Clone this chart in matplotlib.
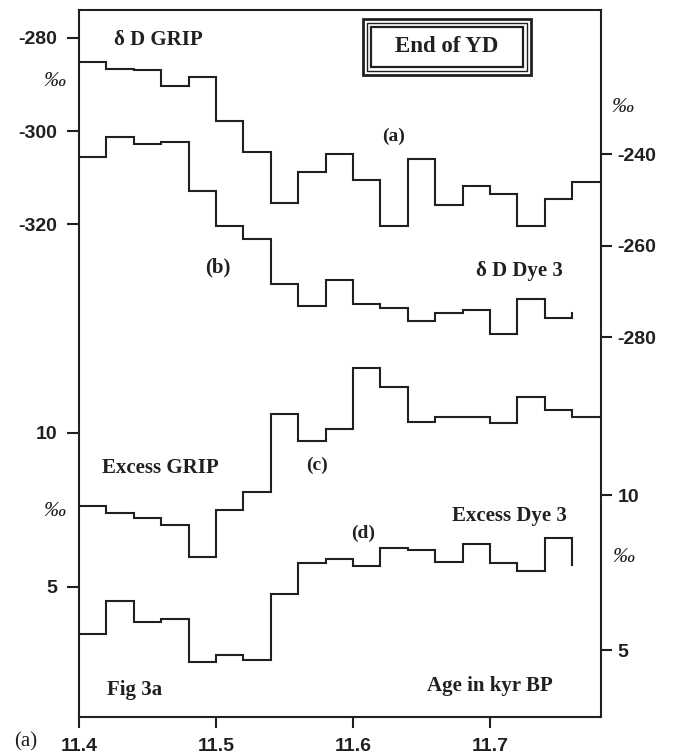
import matplotlib
matplotlib.use('Agg')
import matplotlib.pyplot as plt
from matplotlib.patches import Rectangle

plt.rcParams['axes.unicode_minus'] = False

# ages (kyr BP) at the start of each 20-yr bin, last entry is the end edge
age_grip = [11.40, 11.42, 11.44, 11.46, 11.48, 11.50, 11.52, 11.54, 11.56, 11.58,
            11.60, 11.62, 11.64, 11.66, 11.68, 11.70, 11.72, 11.74, 11.76, 11.78]
age_dye3 = [11.40, 11.42, 11.44, 11.46, 11.48, 11.50, 11.52, 11.54, 11.56, 11.58,
            11.60, 11.62, 11.64, 11.66, 11.68, 11.70, 11.72, 11.74, 11.76]

# (a) dD GRIP (permil)
dD_grip = [-285.3, -286.6, -286.9, -290.3, -288.4, -297.8, -304.5, -315.4, -308.7, -304.9,
           -310.5, -320.4, -306.1, -315.8, -311.7, -313.5, -320.4, -314.6, -310.9, -310.9]
# (b) dD Dye 3 (permil)
dD_dye3 = [-240.7, -236.2, -237.7, -237.3, -248.0, -255.7, -258.6, -268.3, -273.2, -267.5,
           -272.8, -273.7, -276.4, -274.6, -274.0, -279.3, -271.7, -275.8, -274.7]
# (c) deuterium excess GRIP (permil)
xs_grip = [7.62, 7.38, 7.22, 6.99, 5.97, 7.49, 8.07, 10.60, 9.73, 10.12,
           12.11, 11.49, 10.34, 10.52, 10.52, 10.31, 11.15, 10.74, 10.50, 10.50]
# (d) deuterium excess Dye 3 (permil)
xs_dye3 = [5.52, 6.59, 5.91, 5.99, 4.60, 4.84, 4.68, 6.81, 7.80, 7.95,
           7.72, 8.28, 8.23, 7.83, 8.41, 7.80, 7.55, 8.62, 7.76]

x_ticks = [11.4, 11.5, 11.6, 11.7]
dD_grip_ticks = [-280, -300, -320]
dD_dye3_ticks = [-240, -260, -280]
xs_grip_ticks = [10, 5]
xs_dye3_ticks = [10, 5]

W, H = 680, 755
ink = '#231f20'
serif = 'Liberation Serif'
sans = 'Liberation Sans'
tick_font = {'family': sans, 'weight': 'bold', 'size': 14}


def px(x, y):
    # pixel position in the picture -> figure fraction
    return x / W, 1 - y / H


fig = plt.figure(figsize=(W / 100, H / 100), dpi=100)
rect = [79 / W, 1 - 717 / H, (601 - 79) / W, (717 - 10) / H]

ax1 = fig.add_axes(rect, label='dD_grip')
ax2 = fig.add_axes(rect, label='xs_grip')
ax3 = fig.add_axes(rect, label='dD_dye3')
ax4 = fig.add_axes(rect, label='xs_dye3')

setup = [
    (ax1, age_grip, dD_grip, dD_grip_ticks, (-425.6, -274.06), 'left'),
    (ax2, age_grip, xs_grip, xs_grip_ticks, (0.77, 23.72), 'left'),
    (ax3, age_dye3, dD_dye3, dD_dye3_ticks, (-363.0, -208.46), 'right'),
    (ax4, age_dye3, xs_dye3, xs_dye3_ticks, (2.84, 25.65), 'right'),
]

for ax, ages, vals, ticks, ylim, side in setup:
    ax.step(ages, vals, where='post', color=ink, lw=1.5, solid_joinstyle='miter')
    ax.set_xlim(11.4, 11.781)
    ax.set_ylim(*ylim)
    ax.set_yticks(ticks)
    ax.set_yticklabels([str(t) for t in ticks], fontdict=tick_font)
    if side == 'right':
        ax.yaxis.tick_right()
        ax.tick_params(axis='y', length=8, width=1.5, pad=4, colors=ink, direction='out')
    else:
        ax.tick_params(axis='y', length=8.5, width=1.5, pad=7, colors=ink, direction='out')
    if ax is not ax1:
        ax.patch.set_visible(False)
        for s in ax.spines.values():
            s.set_visible(False)
        ax.set_xticks([])

ax1.set_xticks(x_ticks)
ax1.set_xticklabels([f'{t:.1f}' for t in x_ticks], fontdict=tick_font)
ax1.tick_params(axis='x', length=8, width=1.5, pad=7, colors=ink)
for s in ax1.spines.values():
    s.set_linewidth(1.5)
    s.set_color(ink)

# labels
lab = dict(family=serif, weight='bold', size=15, color=ink, ha='center', va='center')
fig.text(*px(158, 40), 'δ D GRIP', **lab)
fig.text(*px(218, 267), '(b)', **lab)
fig.text(*px(519, 271), 'δ D Dye 3', **lab)
fig.text(*px(160, 468), 'Excess GRIP', **lab)
fig.text(*px(509, 516), 'Excess Dye 3', **lab)
fig.text(*px(135, 690), 'Fig 3a', **lab)
fig.text(*px(490, 686), 'Age in kyr BP', **lab)
small = dict(lab, size=14)
fig.text(*px(394, 136), '(a)', **small)
fig.text(*px(317, 465), '(c)', **small)
fig.text(*px(363, 533), '(d)', **small)
fig.text(*px(447, 47), 'End of YD', family=serif, weight='bold', size=16.5, color=ink,
         ha='center', va='center')
fig.text(*px(26, 742), '(a)', family=serif, size=15, color=ink, ha='center', va='center')

permil = dict(family=serif, style='italic', size=16, color=ink, ha='center', va='center')
fig.text(*px(54, 82), '‰', **permil)
fig.text(*px(54, 512), '‰', **permil)
fig.text(*px(622, 108), '‰', **permil)
fig.text(*px(623, 557), '‰', **permil)

# triple frame around "End of YD"
for inset, lw in [(0, 2.0), (4, 1.0), (8, 1.6)]:
    x0, y0 = 363 + inset, 19 + inset
    x1, y1 = 531 - inset, 75 - inset
    fig.patches.append(Rectangle(px(x0, y1), (x1 - x0) / W, (y1 - y0) / H,
                                 transform=fig.transFigure, fill=False,
                                 edgecolor=ink, lw=lw))

fig.savefig('out.png', dpi=100)
